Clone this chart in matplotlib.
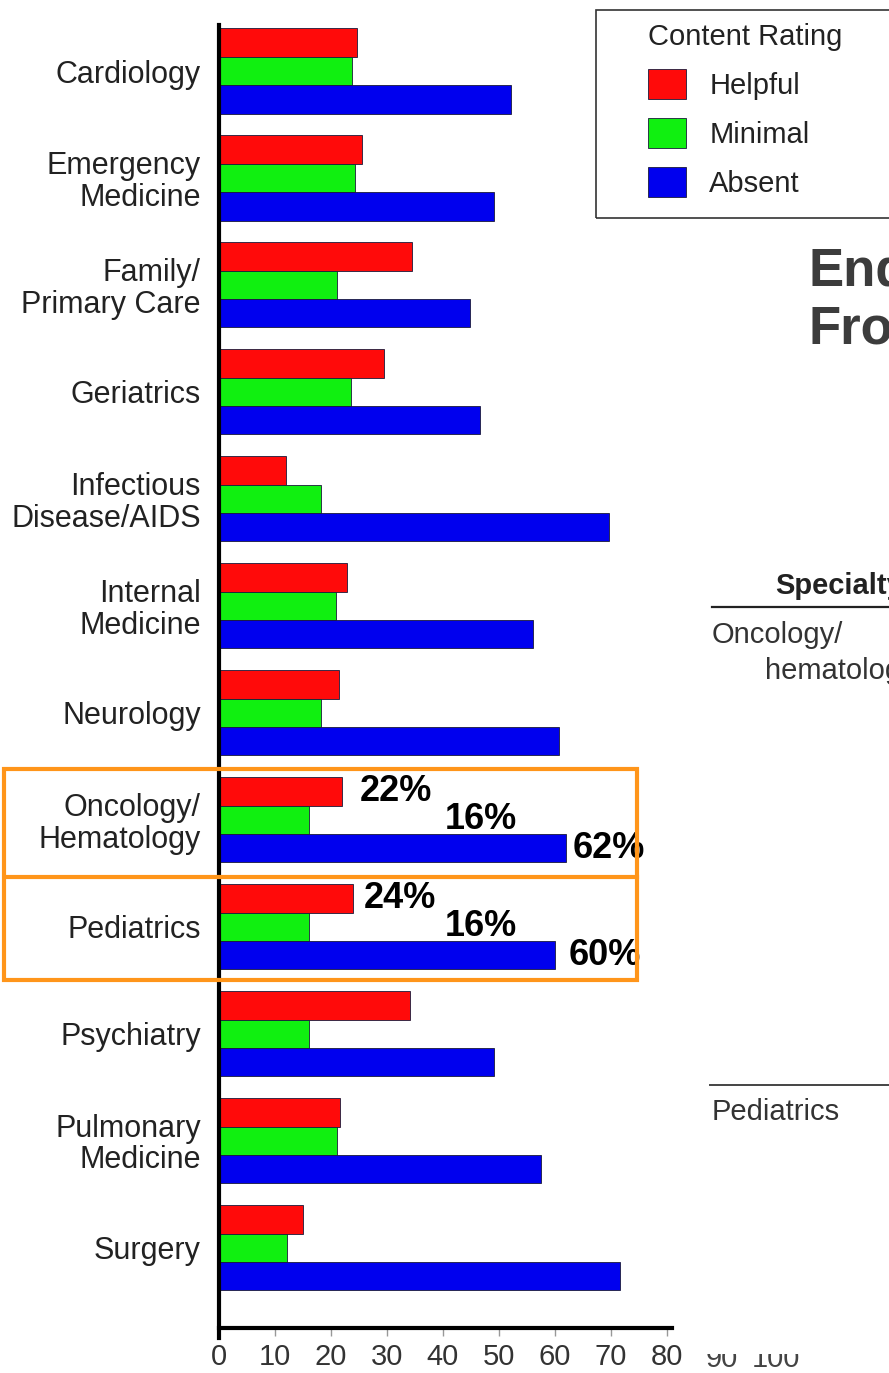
import matplotlib
matplotlib.use("Agg")
import matplotlib.pyplot as plt
from matplotlib.patches import Rectangle
from matplotlib.lines import Line2D
from matplotlib.transforms import Bbox
import numpy as np

plt.rcParams['font.family'] = ['Liberation Sans', 'DejaVu Sans']

categories = ["Cardiology", "Emergency\nMedicine", "Family/\nPrimary Care", "Geriatrics",
              "Infectious\nDisease/AIDS", "Internal\nMedicine", "Neurology",
              "Oncology/\nHematology", "Pediatrics", "Psychiatry",
              "Pulmonary\nMedicine", "Surgery"]
helpful = [24.7, 25.6, 34.5, 29.5, 12.0, 22.9, 21.5, 22.0, 24.0, 34.2, 21.7, 15.0]
minimal = [23.8, 24.3, 21.1, 23.5, 18.3, 20.9, 18.3, 16.0, 16.0, 16.0, 21.0, 12.2]
absent = [52.1, 49.2, 44.9, 46.7, 69.6, 56.0, 60.7, 62.0, 60.0, 49.2, 57.5, 71.6]
series_names = ["Helpful", "Minimal", "Absent"]
xticks = [0, 10, 20, 30, 40, 50, 60, 70, 80]
legend_title = "Content Rating"

# highlighted annotations: (category index, series index, label)
highlights = [(7, 0, "22%"), (7, 1, "16%"), (7, 2, "62%"),
              (8, 0, "24%"), (8, 1, "16%"), (8, 2, "60%")]
highlight_x = [25.2, 40.3, 63.2, 25.8, 40.3, 62.5]

W, H = 889, 1373
fig = plt.figure(figsize=(W / 100, H / 100), dpi=100)

def fx(px):
    return px / W

def fy(py):
    return 1 - py / H

left_px, right_px, top_px, bot_px = 219, 672.5, 25, 1328
ax = fig.add_axes([fx(left_px), fy(bot_px), fx(right_px) - fx(left_px), fy(top_px) - fy(bot_px)])

colors = ["#ff0a0a", "#10f010", "#0000ee"]
h = 0.265
y = np.arange(len(categories))
vals = [helpful, minimal, absent]
offsets = [-h, 0, h]
for v, c, off, name in zip(vals, colors, offsets, series_names):
    ax.barh(y + off, v, height=h, color=c, edgecolor="#1a1a3a", linewidth=0.6, label=name)

ax.set_xlim(0, 81)
ax.set_ylim(11.75, -0.43)
ax.set_yticks(y)
ax.set_yticklabels(categories, fontsize=22, color="#222222", linespacing=1.05)
ax.tick_params(axis="y", length=0, pad=13)
ax.set_xticks(xticks)
ax.set_xticklabels([str(t) for t in xticks], fontsize=21, color="#333333")
ax.tick_params(axis="x", direction="out", length=6, width=1, color="#999999", pad=5)
for s in ["top", "right"]:
    ax.spines[s].set_visible(False)
ax.spines["left"].set_linewidth(3)
ax.spines["bottom"].set_linewidth(3)
ax.spines["left"].set_bounds(-0.43, 11.84)

# highlight labels
for (ci, si, lab), xx in zip(highlights, highlight_x):
    ax.text(xx, ci + offsets[si], lab, fontsize=26, fontweight="bold", color="black",
            ha="left", va="center")

# orange boxes
orange = "#ff951a"
fig.patches.append(Rectangle((fx(4), fy(980)), fx(637) - fx(4), fy(769) - fy(980),
                             transform=fig.transFigure, fill=False, edgecolor=orange, linewidth=3))
fig.lines.append(Line2D([fx(8), fx(637)], [fy(877), fy(877)], transform=fig.transFigure,
                        color=orange, linewidth=3))

# legend
fig.patches.append(Rectangle((fx(596), fy(218)), fx(950) - fx(596), fy(10) - fy(218),
                             transform=fig.transFigure, fill=False, edgecolor="#333333", linewidth=1.2))
leg = ax.legend(title=legend_title, loc="upper left", bbox_to_anchor=(fx(648), fy(23)),
                bbox_transform=fig.transFigure, frameon=False, fontsize=21, title_fontsize=21,
                handlelength=1.3, handleheight=1.2, handletextpad=0.8, labelspacing=0.62,
                borderpad=0, borderaxespad=0, alignment="left")
for t in leg.get_texts():
    t.set_color("#222222")
leg.get_title().set_color("#222222")

# background page fragments on the right
fig.text(fx(808), fy(271), "Endo", fontsize=38, fontweight="bold", color="#3c3c3c", va="center")
fig.text(fx(808), fy(330), "From", fontsize=38, fontweight="bold", color="#3c3c3c", va="center")
fig.text(fx(775), fy(586), "Specialty", fontsize=21, fontweight="bold", color="#222222", va="center")
fig.lines.append(Line2D([fx(712), 1.0], [fy(607), fy(607)], transform=fig.transFigure,
                        color="#222222", linewidth=1.6))
fig.text(fx(712), fy(635), "Oncology/", fontsize=21, color="#333333", va="center")
fig.text(fx(765), fy(671), "hematology", fontsize=21, color="#333333", va="center")
fig.lines.append(Line2D([fx(710), 1.0], [fy(1085), fy(1085)], transform=fig.transFigure,
                        color="#444444", linewidth=1.4))
fig.text(fx(712), fy(1112), "Pediatrics", fontsize=21, color="#333333", va="center")

clip = Bbox.from_extents(0, 0, W, 19)
for lab, cx in [("90", 722), ("100", 776)]:
    t = fig.text(fx(cx), fy(1359), lab, fontsize=21, color="#444444", ha="center", va="center")
    t.set_clip_box(clip)
    t.set_clip_on(True)

fig.savefig("out.png", dpi=100)
